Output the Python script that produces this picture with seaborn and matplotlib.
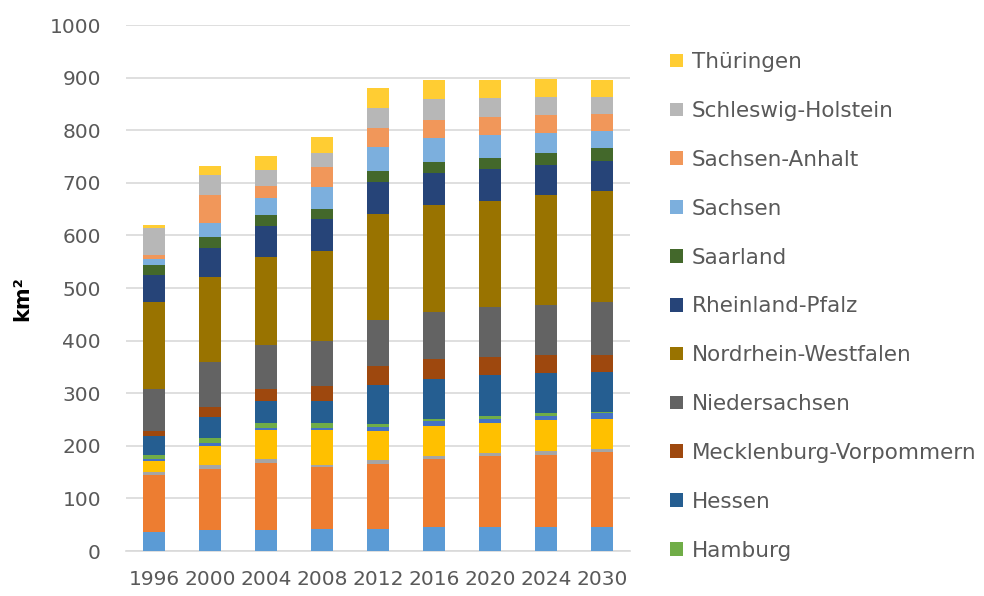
import numpy as np
import pandas as pd
import matplotlib
matplotlib.use("Agg")
import matplotlib.pyplot as plt
from matplotlib.patches import Patch
import seaborn as sns

years = ["1996", "2000", "2004", "2008", "2012", "2016", "2020", "2024", "2030"]

baden_wuerttemberg = [37, 40, 40, 42, 42, 46, 46, 46, 46]
bayern = [108, 116, 127, 117, 124, 129, 134, 137, 142]
berlin = [5.5, 7.5, 7.5, 5, 7.6, 5.7, 5.7, 7.5, 5.3]
brandenburg = [21, 37, 55, 65.5, 55, 57.6, 57.7, 58.5, 57.7]
bremen = [4, 5, 5, 5, 8, 8.2, 8.3, 8.2, 10.8]
hamburg = [7, 8.5, 8, 8.5, 5, 4.5, 5.7, 5, 3]
hessen = [37, 40, 42, 42, 74, 76.7, 76.3, 76, 76]
mecklenburg_vorpommern = [8, 19, 24, 29, 36.6, 37.4, 34.5, 34.8, 31]
niedersachsen = [81, 87, 84, 84.5, 87.5, 89.6, 95, 94.5, 101]
nordrhein_westfalen = [164, 161, 166, 172, 201, 203, 202.5, 209, 211]
rheinland_pfalz = [53, 55, 58.5, 61, 60, 61, 61, 58, 58]
saarland = [19, 20.5, 21, 18.5, 21, 21, 21, 23, 23.6]
sachsen = [11, 27, 34, 42.5, 45.6, 45, 42.6, 37.7, 32.4]
sachsen_anhalt = [8, 53, 22, 37, 37, 34.5, 34.4, 34.3, 33.4]
schleswig_holstein = [50, 39, 31, 28, 38.5, 39.5, 36.6, 34, 31.6]
thueringen = [6, 16, 26, 29, 37.5, 37, 34.4, 34, 32]

states = ["Baden-Württemberg", "Bayern", "Berlin", "Brandenburg", "Bremen", "Hamburg",
          "Hessen", "Mecklenburg-Vorpommern", "Niedersachsen", "Nordrhein-Westfalen",
          "Rheinland-Pfalz", "Saarland", "Sachsen", "Sachsen-Anhalt",
          "Schleswig-Holstein", "Thüringen"]
series = [baden_wuerttemberg, bayern, berlin, brandenburg, bremen, hamburg, hessen,
          mecklenburg_vorpommern, niedersachsen, nordrhein_westfalen, rheinland_pfalz,
          saarland, sachsen, sachsen_anhalt, schleswig_holstein, thueringen]
colors = ["#5B9BD5", "#ED7D31", "#A5A5A5", "#FFC000", "#4472C4", "#70AD47",
          "#255E91", "#9E480E", "#636363", "#997300", "#264478", "#43682B",
          "#7CAFDD", "#F1975A", "#B7B7B7", "#FFCD33"]
legend_states = ["Thüringen", "Schleswig-Holstein", "Sachsen-Anhalt", "Sachsen",
                 "Saarland", "Rheinland-Pfalz", "Nordrhein-Westfalen", "Niedersachsen",
                 "Mecklenburg-Vorpommern", "Hessen", "Hamburg"]

sns.set_theme(style="white")
plt.rcParams["font.family"] = ["DejaVu Sans"]

df = pd.DataFrame(np.array(series).T, columns=states)
df.insert(0, "Jahr", years)
cum = df[states].cumsum(axis=1)

fig = plt.figure(figsize=(9.84, 5.96), dpi=100)
ax = fig.add_axes([0.128, 0.0755, 0.512, 0.8825])

for st, col in zip(reversed(states), reversed(colors)):
    sns.barplot(x=df["Jahr"], y=cum[st], color=col, width=0.4, ax=ax,
                order=years, saturation=1, edgecolor="none", linewidth=0, zorder=3)

ax.set_ylim(0, 1000)
ax.set_yticks(range(0, 1001, 100))
ax.grid(axis="y", color="#D9D9D9", linewidth=1.2, zorder=0)
ax.set_axisbelow(True)
for s in ["top", "right", "left"]:
    ax.spines[s].set_visible(False)
ax.spines["bottom"].set_color("#D9D9D9")
ax.spines["bottom"].set_linewidth(1.2)
ax.tick_params(axis="y", length=0, labelsize=14.5, colors="#595959", pad=18)
ax.tick_params(axis="x", length=0, labelsize=14.5, colors="#595959", pad=14)
ax.set_xlabel("")
ax.set_ylabel("km²", fontsize=15, fontweight="bold", color="black", labelpad=8)
ax.yaxis.set_label_coords(-0.185, 0.48)

handles = [Patch(facecolor=colors[states.index(s)], edgecolor="none") for s in legend_states]
leg = fig.legend(handles, legend_states, loc="upper left", bbox_to_anchor=(0.672, 0.927),
                 frameon=False, fontsize=15.5, labelcolor="#595959",
                 handlelength=0.6, handleheight=0.6, handletextpad=0.42,
                 labelspacing=1.34, borderaxespad=0)

fig.savefig("out.png", dpi=100)
